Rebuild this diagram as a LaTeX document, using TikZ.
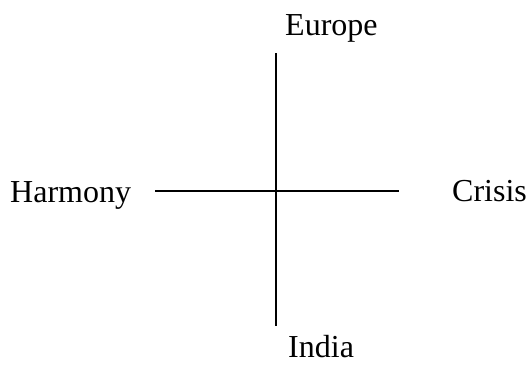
\documentclass[tikz,border=0pt]{standalone}
\usepackage{fontspec}
\setmainfont{Liberation Serif}
\usetikzlibrary{positioning}

\begin{document}
\begin{tikzpicture}[x=1pt, y=-1pt,
        axislabel/.style={font=\fontsize{32}{38}\selectfont, inner sep=0pt, anchor=base west},
        axisline/.style={line width=1.5pt}]
        \useasboundingbox (0,0) rectangle (528,365);
        \coordinate (top) at (276,53);
        \coordinate (bottom) at (276,326);
        \coordinate (left) at (155,191);
        \coordinate (right) at (399,191);

        \draw[axisline] (top) -- (bottom);
        \draw[axisline] (left) -- (right);

        \node[axislabel] (europe) at (285,35) {Europe};
        \node[axislabel] (harmony) at (10,202) {Harmony};
        \node[axislabel] (crisis) at (452,201) {Crisis};
        \node[axislabel] (india) at (288,357) {India};
    \end{tikzpicture}
\end{document}
